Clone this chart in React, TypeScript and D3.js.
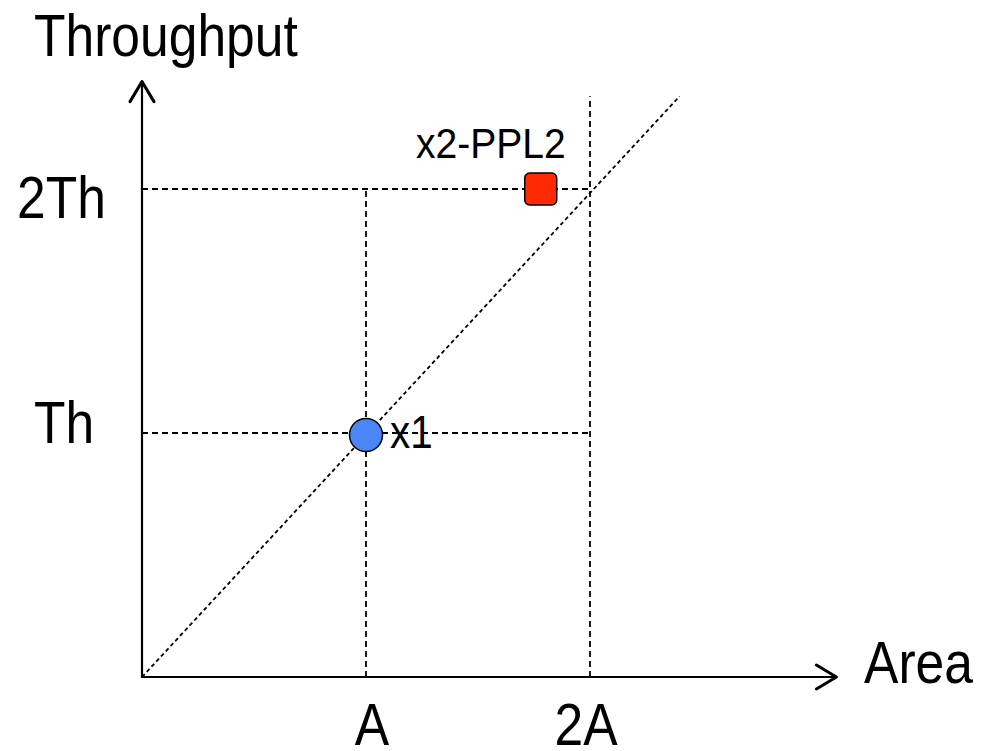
import React from "react";
import * as d3 from "d3";

const xTicks = [
  { label: "A", value: 1 },
  { label: "2A", value: 2 },
];
const yTicks = [
  { label: "Th", value: 1 },
  { label: "2Th", value: 2 },
];
const points = [
  { label: "x1", x: 1, y: 1, shape: "circle", color: "#4a86f5" },
  { label: "x2-PPL2", x: 1.78, y: 2, shape: "square", color: "#ff2a00" },
];
const diagonal = [
  { x: 0, y: 0 },
  { x: 2.4, y: 2.38 },
];
const xAxisMax = 3.1;
const yAxisMax = 2.44;
const xGuideTop = 2.38;

const W = 992;
const H = 751;
const FONT = "'Liberation Sans', Arial, sans-serif";

export default function App() {
  const x = d3.scaleLinear().domain([0, 2]).range([142, 590]);
  const y = d3.scaleLinear().domain([0, 2]).range([677, 189]);
  const line = d3
    .line<{ x: number; y: number }>()
    .x((d) => x(d.x))
    .y((d) => y(d.y));

  const x0 = x(0);
  const y0 = y(0);
  const xEnd = x(xAxisMax);
  const yEnd = y(yAxisMax);

  const bigText = (t: string, px: number, py: number, anchor = "start") => (
    <text
      key={t}
      transform={`translate(${px},${py}) scale(0.86,1)`}
      fontFamily={FONT}
      fontSize={60}
      textAnchor={anchor}
      fill="#000"
    >
      {t}
    </text>
  );

  return (
    <div style={{ position: "absolute", left: 0, top: 0 }}>
      <svg width={W} height={H} style={{ display: "block", background: "#fff" }}>
        {/* guide lines */}
        <g stroke="#000" strokeWidth={1.8} strokeDasharray="6,4" fill="none">
          {yTicks.map((t) => (
            <line key={t.label} x1={x0} x2={x(2)} y1={y(t.value)} y2={y(t.value)} />
          ))}
          <line x1={x(1)} x2={x(1)} y1={y0} y2={y(2)} />
          <line x1={x(2)} x2={x(2)} y1={y0} y2={y(xGuideTop)} />
        </g>
        <path d={line(diagonal) || ""} stroke="#000" strokeWidth={1.8} strokeDasharray="4,3" fill="none" />

        {/* axes */}
        <g stroke="#000" fill="none" strokeLinecap="round" strokeLinejoin="round">
          <line x1={x0} x2={x0} y1={y0} y2={yEnd} strokeWidth={2.2} />
          <line x1={x0} x2={xEnd} y1={y0} y2={y0} strokeWidth={2.2} />
          <polyline points={`${x0 - 12},${yEnd + 20} ${x0},${yEnd} ${x0 + 12},${yEnd + 20}`} strokeWidth={3} />
          <polyline points={`${xEnd - 20},${y0 - 12} ${xEnd},${y0} ${xEnd - 20},${y0 + 12}`} strokeWidth={3} />
        </g>

        {/* points */}
        {points.map((p) =>
          p.shape === "circle" ? (
            <circle key={p.label} cx={x(p.x)} cy={y(p.y) + 2} r={16.5} fill={p.color} stroke="#000" strokeWidth={1.5} />
          ) : (
            <rect
              key={p.label}
              x={x(p.x) - 16}
              y={y(p.y) - 16}
              width={32}
              height={32}
              rx={5}
              fill={p.color}
              stroke="#000"
              strokeWidth={1.5}
            />
          )
        )}

        {/* point labels */}
        <text transform={`translate(390,448) scale(0.86,1)`} fontFamily={FONT} fontSize={47}>
          {points[0].label}
        </text>
        <text transform={`translate(416,158) scale(0.93,1)`} fontFamily={FONT} fontSize={42}>
          {points[1].label}
        </text>

        {/* axis titles */}
        {bigText("Throughput", 34, 56)}
        {bigText("Area", 864, 683)}

        {/* tick labels */}
        {xTicks.map((t) => bigText(t.label, x(t.value) + (t.value === 1 ? 6 : -4), 745, "middle"))}
        {bigText(yTicks[0].label, 34, 443)}
        {bigText(yTicks[1].label, 17, 218)}
      </svg>
    </div>
  );
}
